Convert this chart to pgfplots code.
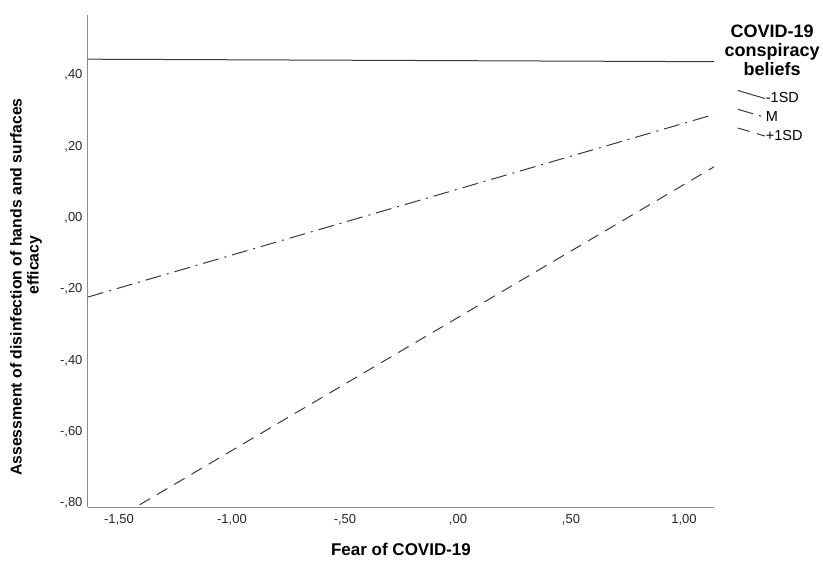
\documentclass[border=0pt]{standalone}
\usepackage{fontspec}
\setmainfont{Liberation Sans}
\usepackage{pgfplots}
\pgfplotsset{compat=1.18}
\definecolor{lc}{HTML}{3A3A3A}
\definecolor{ac}{HTML}{8C8C8C}
\begin{document}
\begin{tikzpicture}
\path[use as bounding box] (-88bp,-55bp) rectangle (735bp,507bp);
\begin{axis}[
 scale only axis, width=626bp, height=492bp,
 xmin=-1.637, xmax=1.133, ymin=-0.811, ymax=0.569,
 clip mode=individual,
 axis lines*=left, axis line style={ac, line width=1bp},
 major tick length=0,
 xtick={-1.5,-1,-0.5,0,0.5,1},
 xticklabels={{-1,50},{-1,00},{-,50},{,00},{,50},{1,00}},
 ytick={-0.8,-0.6,-0.4,-0.2,0,0.2,0.4},
 yticklabels={{-,80},{-,60},{-,40},{-,20},{,00},{,20},{,40}},
 tick label style={font=\fontsize{13bp}{15bp}\selectfont, color=black!85},
 xticklabel style={yshift=-4bp},
 yticklabel style={xshift=-2bp},
 xlabel={Fear of COVID-19},
 xlabel style={font=\bfseries\fontsize{17bp}{19bp}\selectfont, at={(axis description cs:0.5,-0.087)}, anchor=center},
 ylabel={Assessment of disinfection of hands and surfaces\\\hspace*{44bp}efficacy},
 ylabel style={font=\bfseries\fontsize{15.8bp}{17bp}\selectfont, align=center, at={(axis description cs:-0.068,0.447)}, anchor=south},
 legend style={draw=none, fill=none, at={(axis description cs:1.037,0.848)}, anchor=north west, font=\fontsize{14.5bp}{16bp}\selectfont, row sep=4bp, inner sep=0pt, nodes={inner sep=0.5bp}},
 legend cell align=left,
 legend image code/.code={\draw[#1] (0bp,8bp) -- (27bp,0bp);},
]
\addplot[lc, line width=1bp] coordinates {(-1.637,0.445) (1.133,0.438)};
\addlegendentry{-1SD}
\addplot[lc, line width=1bp, dash pattern=on 16bp off 6bp on 2bp off 6bp] coordinates {(-1.637,-0.222) (1.133,0.290)};
\addlegendentry{M}
\addplot[lc, line width=1bp, dash pattern=on 12bp off 8bp] coordinates {(-1.637,-0.890) (1.133,0.143)};
\addlegendentry{+1SD}
\node[font=\bfseries\fontsize{18bp}{19bp}\selectfont, align=center, anchor=north, inner sep=0pt] at (axis description cs:1.0927,0.98) {COVID-19\\conspiracy\\beliefs};
\end{axis}
\end{tikzpicture}
\end{document}
